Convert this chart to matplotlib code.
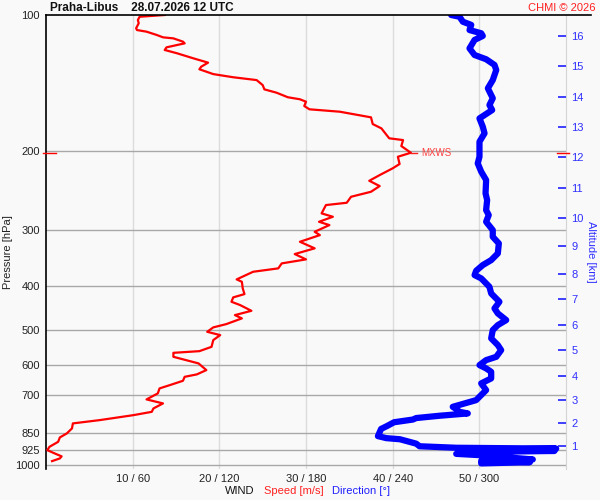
import matplotlib
matplotlib.use('Agg')
import matplotlib.pyplot as plt
from matplotlib.lines import Line2D
import numpy as np

plt.rcParams['font.family'] = ['Liberation Sans', 'DejaVu Sans']

# wind speed profile [m/s] vs pressure [hPa]
spd_p = [100, 100.9, 102.6, 104.3, 107.0, 108.0, 108.9, 110.8, 112.1, 112.7, 114.6, 115.6,
         118.0, 119.6, 121.6, 124.8, 127.6, 130.3, 132.0, 135.3, 137.5, 139.5, 143.1, 146.3,
         148.8, 152.3, 153.9, 155.8, 159.3, 162.0, 164.0, 168.8, 174.7, 178.6, 187.9, 189.6,
         195.5, 202.3, 206.5, 214.3, 219.1, 226.8, 233.5, 239.9, 247.0, 253.4, 261.3, 264.4,
         275.9, 280.7, 288.0, 292.9, 303.1, 308.3, 319.0, 329.9, 339.7, 349.1, 356.3, 365.5,
         371.9, 386.7, 391.5, 404.9, 416.9, 424.0, 433.6, 441.0, 454.1, 464.2, 472.1, 486.1,
         494.3, 505.6, 514.2, 527.5, 546.0, 558.2, 563.0, 574.6, 594.3, 615.0, 628.7, 636.5,
         649.6, 664.0, 675.4, 692.9, 714.5, 729.3, 748.2, 761.4, 774.3, 794.3, 807.8, 828.7,
         850.3, 867.8, 887.6, 910.6, 926.2, 941.9, 956.0, 966.2, 979.7]
spd = [13.7, 10.8, 10.6, 10.7, 10.4, 10.5, 11.6, 12.8, 13.5, 14.7, 15.8, 16.0,
       13.9, 13.7, 15.1, 17.0, 18.7, 17.9, 17.7, 19.3, 21.6, 24.3, 25.0, 25.2,
       26.6, 27.9, 29.3, 30.0, 29.8, 30.4, 33.9, 37.5, 37.7, 38.7, 39.6, 41.2,
       41.0, 42.1, 40.6, 40.8, 40.0, 38.5, 37.3, 38.5, 37.5, 35.2, 34.7, 32.3,
       31.8, 33.1, 31.5, 32.7, 31.0, 31.6, 29.3, 31.0, 28.7, 30.0, 27.2, 26.8,
       23.9, 22.0, 22.6, 22.7, 22.9, 21.6, 21.4, 22.4, 23.7, 21.8, 22.6, 20.8,
       19.3, 18.6, 20.1, 19.3, 19.1, 17.7, 14.7, 14.7, 17.6, 18.5, 17.4, 16.0,
       15.8, 14.3, 13.1, 12.9, 11.6, 13.5, 12.4, 12.2, 10.1, 6.2, 3.1, 3.0,
       2.4, 1.6, 1.4, 0.4, 0.15, 1.0, 1.8, 1.6, 0.7]

# wind direction profile [deg] vs pressure [hPa]
dir_p = [100, 100.9, 103.5, 105.2, 108.0, 109.8, 111.3, 113.6, 118.6, 122.7, 125.4, 129.1,
         132.5, 139.5, 145.5, 153.1, 158.5, 162.6, 169.7, 177.1, 183.2, 191.2, 206.5, 213.6,
         222.9, 232.6, 249.0, 257.7, 271.3, 278.3, 288.0, 300.5, 311.0, 321.7, 338.6, 350.4,
         359.4, 370.0, 378.3, 384.7, 401.7, 415.5, 433.6, 448.6, 460.2, 476.2, 488.6, 501.2,
         522.9, 541.1, 555.3, 574.6, 584.4, 599.5, 609.7, 620.4, 641.7, 658.3, 681.3, 717.1,
         742.1, 750.5, 761.4, 767.6, 777.0, 786.0, 792.0, 803.0, 819.0, 831.0, 862.1, 871.0,
         876.0, 896.0, 908.0, 915.0, 919.0, 926.0, 930.0, 936.0, 940.0, 944.0, 950.2, 971.2,
         978.0, 985.0, 991.3]
dirn = [280.5, 286.3, 288.6, 294.4, 293.2, 301.3, 302.4, 296.7, 293.2, 296.7, 304.7, 310.5,
        311.7, 309.3, 305.9, 309.3, 307.0, 308.9, 300.1, 302.4, 303.6, 300.1, 300.1, 298.9,
        301.3, 304.7, 304.3, 305.4, 304.7, 306.5, 304.7, 309.3, 309.3, 313.5, 312.8, 308.2,
        302.4, 297.8, 296.7, 301.3, 307.0, 308.2, 313.9, 310.5, 312.8, 318.6, 312.8, 309.3,
        308.2, 312.8, 315.1, 311.7, 304.7, 300.1, 304.7, 308.2, 308.2, 301.3, 304.7, 297.8,
        281.6, 284.0, 286.3, 292.0, 272.0, 256.3, 254.0, 241.0, 236.0, 232.0, 229.8, 235.6,
        245.0, 256.3, 258.6, 284.0, 353.2, 286.3, 352.0, 286.0, 300.0, 284.0, 300.1, 337.0,
        301.3, 335.0, 301.3]

p_levels = [100, 200, 300, 400, 500, 600, 700, 850, 925, 1000]
grid_levels = [200, 300, 400, 500, 600, 700, 850, 925, 1000]
spd_ticks = [10, 20, 30, 40, 50]
spd_labels = ['10 / 60', '20 / 120', '30 / 180', '40 / 240', '50 / 300']
alt_km = [1, 2, 3, 4, 5, 6, 7, 8, 9, 10, 11, 12, 13, 14, 15, 16]
alt_p = [907.5, 807.8, 717.1, 634.2, 556.1, 488.6, 428.2, 376.3, 326.1, 282.1,
         242.0, 206.8, 177.7, 152.3, 130.0, 111.3]

bg = '#f9f9f9'
fs = 8
fig = plt.figure(figsize=(6, 5), dpi=100, facecolor=bg)
ax = fig.add_axes([46/600, 1-469/500, 520/600, 454/500], facecolor=bg)
ax.set_yscale('log')
ax.set_ylim(1020, 100)
ax.set_xlim(0, 60)

for p in grid_levels:
    ax.axhline(p, color='#a8a8a8', lw=1, zorder=1)
for s in [10, 20, 30, 40, 50]:
    ax.axvline(s, color='#dcdcdc', lw=1, zorder=0.5)

ax.set_yticks(p_levels)
ax.set_yticklabels([str(p) for p in p_levels])
ax.yaxis.set_minor_locator(matplotlib.ticker.NullLocator())
ax.tick_params(axis='y', length=0, pad=4.5, labelsize=fs, labelcolor='#222222')
ax.set_xticks(spd_ticks)
ax.set_xticklabels(spd_labels)
ax.tick_params(axis='x', length=0, pad=3.5, labelsize=fs, labelcolor='#222222')

ax.spines['bottom'].set_visible(False)
ax.spines['left'].set_color('black')
ax.spines['left'].set_linewidth(1.2)
ax.spines['top'].set_visible(False)
ax.spines['right'].set_color('#d4d4d4')

# speed
ax.plot(spd, spd_p, color='#ff0000', lw=1.6, zorder=3, solid_joinstyle='round')

# direction on 0..360 scale
axd = ax.twiny()
axd.set_xlim(0, 360)
axd.set_xticks([])
for sp in axd.spines.values():
    sp.set_visible(False)
axd.plot(dirn, dir_p, color='#0000ff', lw=4.5, zorder=2, solid_joinstyle='round',
         solid_capstyle='round')

# altitude axis
axa = ax.twinx()
axa.set_yscale('log')
axa.set_ylim(1020, 100)
axa.set_yticks(alt_p)
axa.set_yticklabels([str(a) for a in alt_km])
axa.yaxis.set_minor_locator(matplotlib.ticker.NullLocator())
axa.tick_params(axis='y', direction='in', length=5.5, width=1.2, color='#2020ff',
                labelcolor='#3030ff', labelsize=fs, pad=4)
for side in ['left', 'top', 'bottom', 'right']:
    axa.spines[side].set_visible(False)

fig.text(8/600, 1-252/500, 'Pressure [hPa]', fontsize=fs, color='#222222',
         rotation=90, ha='center', va='center')
fig.text(591/600, 1-252/500, 'Altitude [km]', fontsize=fs, color='#3030ff',
         rotation=270, ha='center', va='center')

# top line across
fig.add_artist(Line2D([46/600, 591/600], [1-15/500, 1-15/500], color='black', lw=1.2))

# maximum wind marker
imax = int(np.argmax(spd))
pmx, smx = spd_p[imax], spd[imax]
ax.plot([smx, smx + 0.7], [pmx, pmx], color='#ff2020', lw=1, zorder=4)
ax.text(smx + 1.2, pmx, 'MXWS', color='#ff4040', fontsize=7, va='center', ha='left', zorder=4)
ax.plot([-0.35, 1.15], [pmx, pmx], color='#ff0000', lw=1, clip_on=False, zorder=4)
ax.plot([59.0, 60.3], [pmx, pmx], color='#ff0000', lw=1, clip_on=False, zorder=4)

fig.text(50/600, 1-8/500, 'Praha-Libus    28.07.2026 12 UTC', fontsize=8.5,
         fontweight='bold', ha='left', va='center', color='#111111')
fig.text(596/600, 1-8/500, 'CHMI \u00a9 2026', fontsize=fs, color='#ff2020',
         ha='right', va='center')

fig.text(225/600, 1-491/500, 'WIND', fontsize=fs, color='#111111', ha='left', va='center')
fig.text(264/600, 1-491/500, 'Speed [m/s]', fontsize=fs, color='#ff2020', ha='left', va='center')
fig.text(332/600, 1-491/500, 'Direction [\u00b0]', fontsize=fs, color='#2020ff', ha='left', va='center')

fig.savefig('out.png', dpi=100, facecolor=bg)
